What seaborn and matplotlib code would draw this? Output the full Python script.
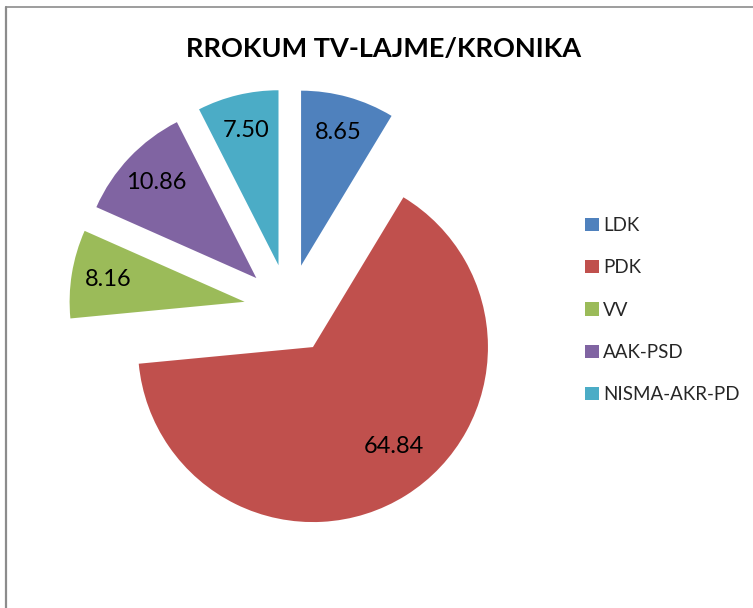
import matplotlib
matplotlib.use("Agg")
import matplotlib.pyplot as plt
from matplotlib.lines import Line2D
import numpy as np
import seaborn as sns

categories = ["LDK", "PDK", "VV", "AAK-PSD", "NISMA-AKR-PD"]
values = [8.65, 64.84, 8.16, 10.86, 7.50]
colors = ["#4F81BD", "#C0504D", "#9BBB59", "#8064A2", "#4BACC6"]
title = "RROKUM TV-LAJME/KRONIKA"

sns.set_theme(style="white")
plt.rcParams["font.family"] = ["Lato", "DejaVu Sans"]

W, H = 753, 608
fig = plt.figure(figsize=(W / 100, H / 100), dpi=100)
fig.patch.set_facecolor("white")

# pie geometry in pixels
cx, cy, R = 289, 309, 175
half = 280
ax = fig.add_axes([(cx - half) / W, (H - (cy + half)) / H, 2 * half / W, 2 * half / H])

palette = sns.color_palette(colors)
total = sum(values)
explode = [0.257] * len(values)
wedges, texts, autotexts = ax.pie(
    values,
    colors=palette,
    startangle=90,
    counterclock=False,
    explode=explode,
    radius=1.0,
    autopct=lambda p: f"{p * total / 100:.2f}",
    pctdistance=0.79,
    textprops=dict(fontsize=17, color="black"),
    wedgeprops=dict(linewidth=0),
)
# PDK label sits a bit closer to the centre and slightly rotated toward the right
w = wedges[1]
mid = np.deg2rad((w.theta1 + w.theta2) / 2 + 7)
autotexts[1].set_position((w.center[0] + 0.73 * w.r * np.cos(mid),
                           w.center[1] + 0.73 * w.r * np.sin(mid)))

lim = half / R
ax.set_xlim(-lim, lim)
ax.set_ylim(-lim, lim)
ax.set_aspect("equal")
ax.axis("off")

fig.text(384 / W, 1 - 49 / H, title, ha="center", va="center",
         fontsize=19.5, fontweight="bold", color="black")

leg = fig.legend(wedges, categories, loc="upper left",
                 bbox_to_anchor=(585 / W, 1 - 217 / H),
                 frameon=False, fontsize=13.5, handlelength=0.72, handleheight=0.72,
                 handletextpad=0.25, labelspacing=1.35, borderpad=0, borderaxespad=0)

# chart border (partially visible)
fig.add_artist(Line2D([6 / W, 6 / W], [0, 1 - 7 / H], color="#8c8c8c", linewidth=1.6,
                      transform=fig.transFigure))
fig.add_artist(Line2D([6 / W, 1], [1 - 7 / H, 1 - 7 / H], color="#8c8c8c", linewidth=1.2,
                      transform=fig.transFigure))

fig.savefig("out.png", dpi=100)
